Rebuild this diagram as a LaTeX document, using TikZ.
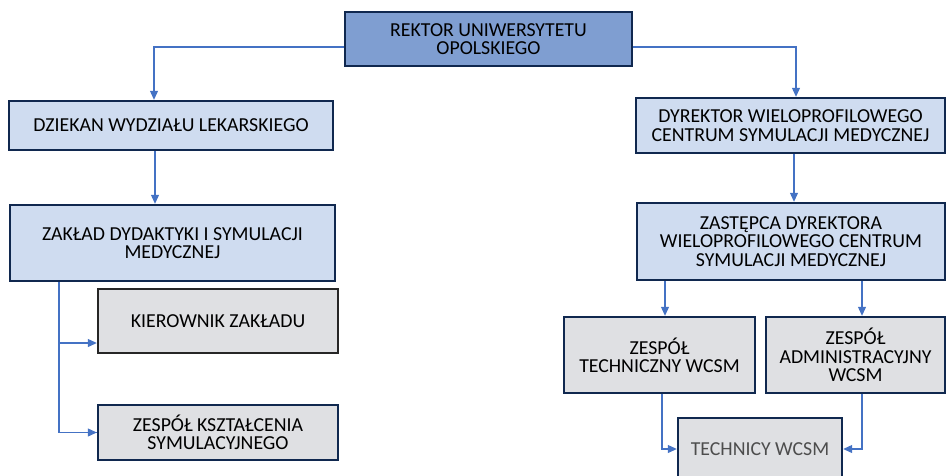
\documentclass[tikz,border=0pt]{standalone}
\usepackage{fontspec}
\setmainfont{Carlito}
\usepackage{tikz}
\usepackage{xcolor}
\usetikzlibrary{arrows.meta, positioning, calc}
\definecolor{navy}{HTML}{10284F}
\definecolor{topfill}{HTML}{7F9ED1}
\definecolor{unitfill}{HTML}{CFDCF0}
\definecolor{teamfill}{HTML}{DFE0E3}
\definecolor{linkblue}{HTML}{4472C4}
\definecolor{softtext}{HTML}{4D4D4D}
\tikzset{
  unit/.style={
    draw=navy, fill=#1, line width=2.4pt,
    font=\fontsize{19.8}{18.3}\selectfont, align=center,
    inner sep=2pt
  },
  unit/.default=unitfill,
  link/.style={-{Triangle[length=9pt, width=8pt]}, line width=1.1pt, color=linkblue},
  plain/.style={line width=1.1pt, color=linkblue}
}

\begin{document}
\begin{tikzpicture}[x=1pt, y=-1pt]
    \useasboundingbox (0,0) rectangle (946,475);

    % left branch
    \node[unit=topfill, line width=2.8pt, minimum width=287pt, minimum height=54pt] (rektor) at (488.5,39) {REKTOR UNIWERSYTETU\\OPOLSKIEGO};
    \node[unit, minimum width=324pt, minimum height=49pt] (dziekan) at (171,125.5) {DZIEKAN WYDZIAŁU LEKARSKIEGO};
    \node[unit, minimum width=325pt, minimum height=76pt] (zaklad) at (172.5,243) {ZAKŁAD DYDAKTYKI I SYMULACJI\\MEDYCZNEJ};
    \node[unit=teamfill, draw=black!85, minimum width=240pt, minimum height=64pt] (kierownik) at (218,321) {KIEROWNIK ZAKŁADU};
    \node[unit=teamfill, minimum width=240pt, minimum height=55pt] (ksztalcenie) at (218,432.5) {ZESPÓŁ KSZTAŁCENIA\\SYMULACYJNEGO};

    % right branch
    \node[unit, minimum width=309pt, minimum height=55pt] (dyrektor) at (790.5,125.5) {DYREKTOR WIELOPROFILOWEGO\\CENTRUM SYMULACJI MEDYCZNEJ};
    \node[unit, minimum width=308pt, minimum height=77pt] (zastepca) at (791,241.5) {ZASTĘPCA DYREKTORA\\WIELOPROFILOWEGO CENTRUM\\SYMULACJI MEDYCZNEJ};
    \node[unit=teamfill, minimum width=191pt, minimum height=76pt] (techniczny) at (659.5,355) {ZESPÓŁ\\TECHNICZNY WCSM};
    \node[unit=teamfill, minimum width=179pt, minimum height=76pt] (admin) at (855.5,355) {ZESPÓŁ\\ADMINISTRACYJNY\\WCSM};
    \node[unit=teamfill, text=softtext, minimum width=164pt, minimum height=62pt] (technicy) at (760,449) {TECHNICY WCSM};

    \draw[link] ([yshift=-8pt]rektor.west) -| ([xshift=-17pt]dziekan.north);
    \draw[link] ([yshift=-8pt]rektor.east) -| ([xshift=5.5pt]dyrektor.north);
    \draw[link] ([xshift=-16pt]dziekan.south) -- ([xshift=-16pt]dziekan.south |- zaklad.north);
    \draw[link] ([xshift=3.5pt]dyrektor.south) -- ([xshift=3.5pt]dyrektor.south |- zastepca.north);

    \coordinate (zdrop) at ([xshift=-113.5pt]zaklad.south);
    \draw[plain] (zdrop) |- (ksztalcenie.west);
    \draw[link] (zdrop |- 0,343) -- (kierownik.west |- 0,343);
    \draw[link] (zdrop |- ksztalcenie.west) -- (ksztalcenie.west);

    \draw[link] ([xshift=5.5pt]techniczny.north |- zastepca.south) -- ([xshift=5.5pt]techniczny.north);
    \draw[link] ([xshift=6.5pt]admin.north |- zastepca.south) -- ([xshift=6.5pt]admin.north);

    \draw[link] ([xshift=2.5pt]techniczny.south) |- (technicy.west);
    \draw[link] ([xshift=6.5pt]admin.south) |- (technicy.east);
  \end{tikzpicture}
\end{document}
